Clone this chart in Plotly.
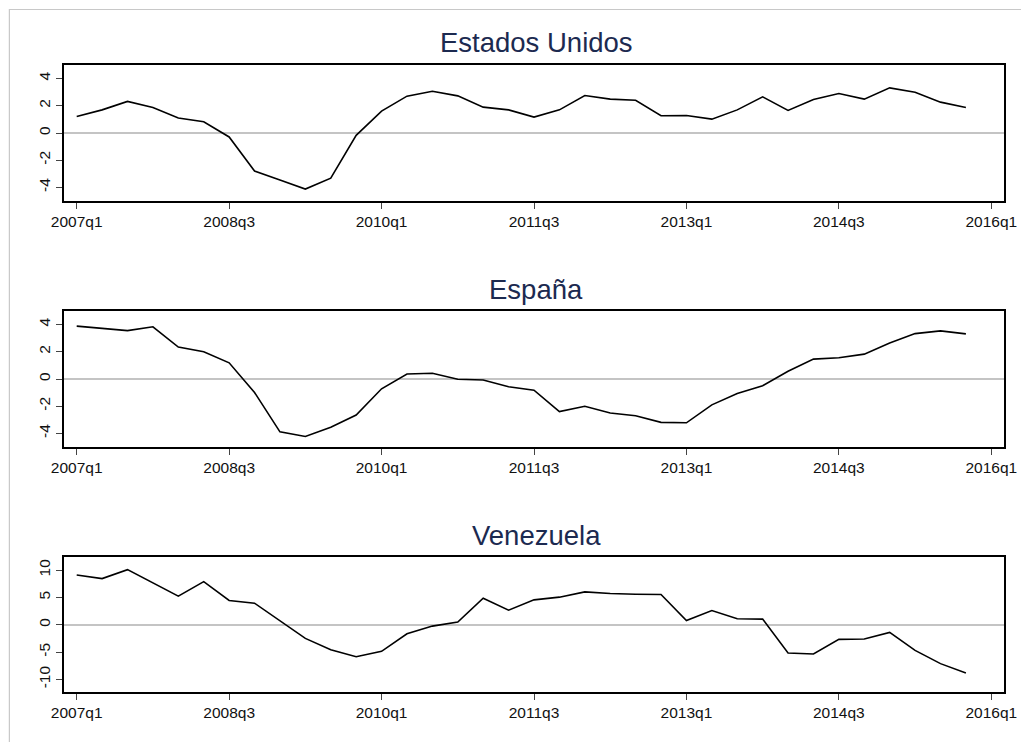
import plotly.graph_objects as go

# Quarterly periods 2007q1 .. 2015q4 (index 0 = 2007q1)
periods = [f"{y}q{q}" for y in range(2007, 2016) for q in range(1, 5)]
quarter_index = list(range(len(periods)))

tick_positions = [0, 6, 12, 18, 24, 30, 36]
tick_labels = ["2007q1", "2008q3", "2010q1", "2011q3", "2013q1", "2014q3", "2016q1"]

titles = ["Estados Unidos", "España", "Venezuela"]

estados_unidos = [1.22, 1.70, 2.32, 1.88, 1.10, 0.83, -0.29, -2.80, -3.46, -4.12,
                  -3.32, -0.17, 1.61, 2.71, 3.07, 2.73, 1.90, 1.70, 1.17, 1.70,
                  2.76, 2.49, 2.41, 1.27, 1.29, 1.02, 1.70, 2.66, 1.66, 2.46,
                  2.90, 2.49, 3.32, 3.00, 2.27, 1.88]

espana = [3.89, 3.71, 3.56, 3.84, 2.35, 2.00, 1.19, -0.99, -3.89, -4.23,
          -3.54, -2.65, -0.72, 0.37, 0.42, -0.02, -0.07, -0.57, -0.82, -2.40,
          -2.00, -2.50, -2.70, -3.19, -3.22, -1.90, -1.06, -0.50, 0.57, 1.46,
          1.56, 1.83, 2.65, 3.34, 3.54, 3.32]

venezuela = [9.12, 8.45, 10.09, 7.66, 5.23, 7.90, 4.44, 3.95, 0.75, -2.49,
             -4.56, -5.84, -4.86, -1.64, -0.24, 0.49, 4.86, 2.67, 4.56, 5.05,
             6.02, 5.71, 5.59, 5.53, 0.79, 2.61, 1.09, 1.03, -5.17, -5.35,
             -2.67, -2.61, -1.40, -4.68, -7.11, -8.81]

series = [estados_unidos, espana, venezuela]
y_ranges = [[-5, 5], [-5, 5], [-12.3, 12.4]]
y_ticks = [[-4, -2, 0, 2, 4], [-4, -2, 0, 2, 4], [-10, -5, 0, 5, 10]]
y_ticktext = [["-4", "-2", "0", "2", "4"], ["-4", "-2", "0", "2", "4"],
              ["-10", "-5", "0", "5", "10"]]

# The page body adds an 8px margin; work in page pixels and convert.
OFF = 8
W, H = 1029 - OFF, 742 - OFF
PL, PR, PT, PB = 63.5, 1010, 65, 692   # plot area in page pixels
ML, MR, MT, MB = PL - OFF, W - (PR - OFF), PT - OFF, H - (PB - OFF)
plot_h = PB - PT
plot_w = PR - PL

def py(pix):
    return (PB - pix) / plot_h

def px(pix):
    return (pix - PL) / plot_w

# panel pixel extents (top, bottom), page coords
panels = [(65, 201), (311, 447), (557, 692)]

FONT = "Liberation Sans, Arial, sans-serif"
TITLE_COLOR = "#1c2a50"

fig = go.Figure()
layout = dict(
    width=W, height=H,
    margin=dict(l=ML, r=MR, t=MT, b=MB, pad=0),
    paper_bgcolor="white", plot_bgcolor="white",
    showlegend=False,
    font=dict(family=FONT, color="#111111"),
    annotations=[], shapes=[],
)

for i, (vals, title) in enumerate(zip(series, titles)):
    n = "" if i == 0 else str(i + 1)
    fig.add_trace(go.Scatter(
        x=quarter_index, y=vals, mode="lines",
        line=dict(color="black", width=1.6),
        xaxis="x" + n, yaxis="y" + n, hoverinfo="skip",
    ))
    top, bot = panels[i]
    layout["xaxis" + n] = dict(
        domain=[0, 1], anchor="y" + n, range=[-0.5, 36.5],
        tickmode="array", tickvals=tick_positions, ticktext=tick_labels,
        ticks="outside", ticklen=6, tickwidth=1, tickcolor="#444444",
        showline=True, linecolor="black", linewidth=1.5, mirror=True,
        showgrid=False, zeroline=False,
        tickfont=dict(family=FONT, size=15.5, color="#111111"),
    )
    layout["yaxis" + n] = dict(
        domain=[py(bot), py(top)], anchor="x" + n, range=y_ranges[i],
        tickmode="array", tickvals=y_ticks[i], ticktext=y_ticktext[i],
        ticks="outside", ticklen=6, tickwidth=1, tickcolor="#444444",
        showline=True, linecolor="black", linewidth=1.5, mirror=True,
        showgrid=False, zeroline=True, zerolinecolor="#c4c4c4", zerolinewidth=2,
        tickangle=-90,
        tickfont=dict(family=FONT, size=15.5, color="#111111"),
    )
    layout["annotations"].append(dict(
        text=title, x=px(539), y=py(top - 22), xref="paper", yref="paper",
        xanchor="center", yanchor="middle", showarrow=False,
        font=dict(family=FONT, size=27.5, color=TITLE_COLOR),
    ))

# outer graph-region frame
layout["shapes"].append(dict(
    type="rect", xref="paper", yref="paper",
    x0=px(8.5), x1=px(1040), y0=py(760), y1=py(9.5),
    line=dict(color="#c8c8c8", width=1.2), fillcolor="rgba(0,0,0,0)", layer="below",
))

fig.update_layout(**layout)
fig.write_html("out.html")
